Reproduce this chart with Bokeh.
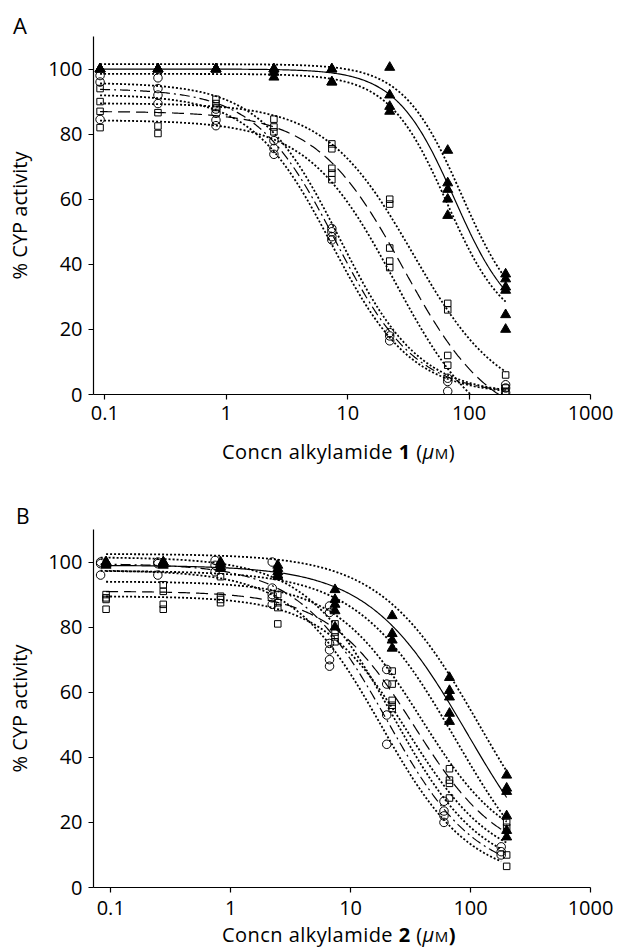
import numpy as np
from bokeh.plotting import figure
from bokeh.layouts import column
from bokeh.models import FixedTicker, CustomJSTickFormatter, Range1d, Div
from bokeh.embed import file_html
from bokeh.resources import INLINE

FONT = "Open Sans"

# ---------------- data ----------------
# concentrations (uM)
conc_std = [0.0914, 0.274, 0.823, 2.47, 7.41, 22.2, 66.7, 200]
conc_b_circ = [0.0823, 0.247, 0.741, 2.22, 6.67, 20.0, 60.0, 180]

# Panel A replicates per concentration
a_tri = [[100, 100, 100, 100], [100, 100, 100, 100], [100, 100, 100, 100],
         [100, 100, 99, 97.5], [100, 100, 96, 96], [100.5, 92, 88.5, 87],
         [75, 65, 63, 60, 55], [37, 35.5, 33, 32, 24.5, 20]]
a_circ = [[98, 96, 84.5], [97.3, 94, 92, 89.4], [87.7, 86.4, 84.3, 82.6],
          [78, 75.6, 73.8], [51, 50, 48.5, 47.5], [19, 18, 16.5],
          [5, 4, 1], [3, 2, 0.5]]
a_sq = [[94, 90, 87, 82], [86.6, 82.5, 80.2], [90.7, 89.4, 88.2],
        [84.6, 82.2, 80.7], [77, 75.5, 69.5, 68, 66], [60, 58.5, 45, 41, 39],
        [28, 26, 12, 9], [6, 2, 1]]

# Panel B replicates per concentration
b_tri = [[100, 100, 99, 99.5], [100, 100, 99.5, 99], [100, 99.5, 98.5, 98],
         [99, 98, 97, 96, 95.5], [91.5, 88.5, 87, 85, 80], [83.5, 78, 76, 73.5],
         [64.5, 60.5, 58.5, 53.5, 51], [34.5, 30.5, 29.5, 22, 17.5, 15.5]]
b_circ = [[100, 99.5, 96], [100, 99.5, 96], [100.5, 99, 97],
          [100, 92, 90, 89, 87], [86.5, 84.5, 75, 73, 70, 68], [67, 62.5, 53, 44],
          [26.5, 23.5, 22, 20], [12.5, 11, 10]]
b_sq = [[90, 88.5, 85.5, 89], [93, 91, 87, 85.5], [95.5, 89.5, 88.5, 87.5],
        [90, 87.5, 86, 81], [81, 78.5, 77, 75.5], [66.5, 62.5, 57.5, 56, 55],
        [36.5, 33, 32, 27.5], [20, 18.5, 10, 6.5]]

# fitted logistic curves: [top, bottom, IC50, hill] (fit, upper and lower band)
a_tri_fit = [[100, 20, 76, 1.8], [101.5, 21, 87, 1.8], [98.5, 19, 66, 1.8]]
a_circ_fit = [[94, 0, 8.0, 1.32], [95.8, 0, 8.6, 1.32], [92.2, 0, 7.4, 1.32]]
a_sq_fit = [[87, -10, 29, 1.2], [89.5, -3, 34.5, 1.2], [84.3, -15, 24.5, 1.2]]

b_tri_fit = [[99, -5, 95, 1.05], [102.5, -3, 119, 1.05], [97.3, -7, 76, 1.05]]
b_circ_fit = [[99.5, 3, 20.2, 1.17], [101.5, 4, 22.5, 1.17], [97.5, 2, 18, 1.17]]
b_sq_fit = [[91, 8, 34, 1.2], [94, 10, 38.5, 1.2], [89.5, 6, 30, 1.2]]

x_ticks = [0.1, 1, 10, 100, 1000]
y_ticks = [0, 20, 40, 60, 80, 100]
y_title = "% CYP activity"


def logistic(x, p):
    top, bottom, ic50, hill = p
    return bottom + (top - bottom) / (1.0 + (x / ic50) ** hill)


def flat(conc, reps):
    xs, ys = [], []
    for c, r in zip(conc, reps):
        xs += [c] * len(r)
        ys += list(r)
    return xs, ys


def make_panel(xmin, x_standoff, series):
    p = figure(width=619, height=400, x_axis_type="log",
               x_range=Range1d(xmin, 1000), y_range=Range1d(0, 110),
               output_backend="svg", toolbar_location=None,
               min_border_left=93, min_border_right=29,
               min_border_top=2, min_border_bottom=40)
    p.outline_line_color = None
    p.xgrid.visible = False
    p.ygrid.visible = False
    p.background_fill_color = "white"
    p.border_fill_color = "white"

    for ax in (p.xaxis[0], p.yaxis[0]):
        ax.axis_line_color = "black"
        ax.axis_line_width = 1.2
        ax.major_tick_line_color = "black"
        ax.major_tick_line_width = 1.2
        ax.major_tick_out = 5
        ax.major_tick_in = 0
        ax.minor_tick_line_color = None
        ax.major_label_text_font = FONT
        ax.major_label_text_font_size = "20px"
        ax.major_label_text_color = "black"

    p.xaxis.ticker = FixedTicker(ticks=x_ticks, minor_ticks=[])
    p.xaxis.formatter = CustomJSTickFormatter(code="return tick.toString()")
    p.xaxis.major_label_standoff = x_standoff
    p.yaxis.ticker = FixedTicker(ticks=y_ticks, minor_ticks=[])
    p.yaxis.major_label_standoff = 6
    p.yaxis.axis_label = y_title
    p.yaxis.axis_label_text_font = FONT
    p.yaxis.axis_label_text_font_size = "20px"
    p.yaxis.axis_label_text_font_style = "normal"
    p.yaxis.axis_label_text_color = "black"
    p.yaxis.axis_label_standoff = 12

    # curves (fit + dotted confidence bands)
    for conc, reps, fits, kind in series:
        xc = np.logspace(np.log10(conc[0]), np.log10(conc[-1]), 300)
        dash = {"tri": "solid", "circ": "10 4 2 4", "sq": "12 6"}[kind]
        for k, prm in enumerate(fits):
            yc = logistic(xc, prm)
            if k == 0:
                p.line(xc, yc, line_color="black", line_width=1.2, line_dash=dash)
            else:
                p.line(xc, yc, line_color="black", line_width=1.8, line_dash="2 2")
    # points
    for conc, reps, fits, kind in series:
        xs, ys = flat(conc, reps)
        if kind == "tri":
            p.scatter(xs, ys, marker="triangle", size=10, fill_color="black",
                      line_color="black", line_width=1)
        elif kind == "circ":
            p.scatter(xs, ys, marker="circle", size=8.5, fill_color=None,
                      line_color="black", line_width=1)
        else:
            p.scatter(xs, ys, marker="square", size=6.5, fill_color=None,
                      line_color="black", line_width=1)
    return p


def xlabel_html(num, paren_bold, top, lh):
    close = "<b>)</b>" if paren_bold else ")"
    return ('<span style="position:absolute;left:222px;top:%.1fpx;font-size:20px;'
            'line-height:%dpx;white-space:nowrap;letter-spacing:0.45px;">'
            'Concn alkylamide <b>%s</b> (<i>\u03bc</i>'
            '<span style="font-size:15px;">M</span>%s</span>' % (top, lh, num, close))


def box(inner, h):
    return ('<div style="position:relative;width:619px;height:%dpx;'
            'font-family:\'Open Sans\';color:black;">%s</div>' % (h, inner))


divA = Div(text=box('<span style="position:absolute;left:13px;top:13.5px;'
                    'font-size:22px;line-height:22px;">A</span>', 34),
           width=619, height=34, margin=(0, 0, 0, 0))
pA = make_panel(0.0807, 6,
                [(conc_std, a_tri, a_tri_fit, "tri"),
                 (conc_std, a_circ, a_circ_fit, "circ"),
                 (conc_std, a_sq, a_sq_fit, "sq")])
divMid = Div(text=box(xlabel_html("1", False, 8.2, 20) +
                      '<span style="position:absolute;left:16px;top:72.4px;'
                      'font-size:21px;line-height:21px;">B</span>', 93),
             width=619, height=93, margin=(0, 0, 0, 0))
pB = make_panel(0.0718, 8,
                [(conc_std, b_tri, b_tri_fit, "tri"),
                 (conc_b_circ, b_circ, b_circ_fit, "circ"),
                 (conc_std, b_sq, b_sq_fit, "sq")])
divBot = Div(text=box(xlabel_html("2", True, 0.3, 16), 21),
             width=619, height=21, margin=(0, 0, 0, 0))

layout = column(divA, pA, divMid, pB, divBot, spacing=0)
open("out.html", "w").write(file_html(layout, INLINE))
